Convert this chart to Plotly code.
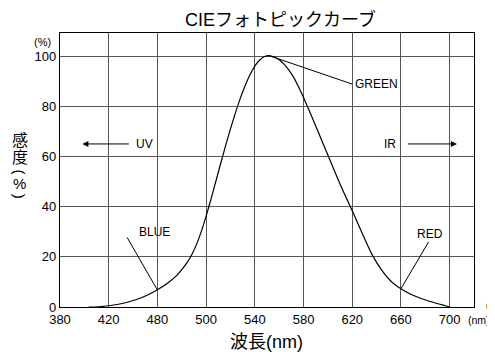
import plotly.graph_objects as go

# ---- data ----
tick_pos = [0, 1, 2, 3, 4, 5, 6, 7, 8]
tick_labels = ["380", "420", "480", "500", "540", "580", "620", "660", "700"]
y_ticks = [0, 20, 40, 60, 80, 100]

# curve position in axis-index units (tick i = i-th label), sensitivity in %
curve_pos = [0.59, 0.8, 1.0, 1.2, 1.4, 1.6, 1.8, 2.0, 2.2, 2.4, 2.5, 2.6, 2.7, 2.8, 2.9,
             3.0, 3.1, 3.2, 3.3, 3.4, 3.5, 3.6, 3.7, 3.8, 3.9, 4.0, 4.1, 4.2, 4.29,
             4.4, 4.5, 4.6, 4.7, 4.8, 4.9, 5.0, 5.1, 5.2, 5.4, 5.6, 5.8, 6.0, 6.2,
             6.4, 6.6, 6.8, 7.0, 7.2, 7.4, 7.6, 7.8, 7.95, 8.0]
curve_val = [0, 0.1, 0.5, 1.1, 2.0, 3.2, 4.8, 6.9, 9.4, 12.6, 14.9, 17.5, 20.7, 24.9, 30.1,
             36.3, 43.1, 50.2, 57.4, 64.4, 71.1, 77.4, 83.2, 88.3, 92.7, 96.2, 98.6, 100.0, 100.4,
             99.8, 98.7, 97.0, 94.6, 91.6, 87.8, 83.6, 79.2, 74.6, 65.3, 56.0, 46.9, 38.4, 29.6,
             21.2, 14.8, 10.2, 7.3, 5.1, 3.5, 2.2, 1.1, 0.3, 0]

labels = ["GREEN", "BLUE", "RED"]
label_pos = [6.006, 1.935, 7.592]
label_val = [89.0, 29.8, 29.3]
label_anchor = ["left", "center", "center"]
leader_from = [(4.285, 100.4), (1.378, 27.8), (7.569, 26.0)]
leader_to = [(6.0, 89.0), (1.993, 7.0), (7.003, 7.4)]

FONT = "Liberation Sans, Arial, Noto Sans CJK JP, sans-serif"

# The page body has an 8px margin, so the figure is drawn 8px smaller and
# all reference pixel positions are shifted by that amount.
OFF = 8
W, H = 495 - OFF, 352 - OFF
PL, PR, PT, PB = 59.6 - OFF, 473.7 - OFF, 33.3 - OFF, 306.7 - OFF
PW, PH = PR - PL, PB - PT


def px(xr):
    return ((xr - OFF) - PL) / PW


def py(yr):
    return (PB - (yr - OFF)) / PH


fig = go.Figure()
fig.add_trace(go.Scatter(
    x=curve_pos, y=curve_val, mode="lines",
    line=dict(color="black", width=1.2, shape="spline", smoothing=0.8),
    hoverinfo="skip", showlegend=False))

for (x0, y0), (x1, y1) in zip(leader_from, leader_to):
    fig.add_shape(type="line", x0=x0, y0=y0, x1=x1, y1=y1, xref="x", yref="y",
                  line=dict(color="black", width=1))

annotations = []
for t, x, y, a in zip(labels, label_pos, label_val, label_anchor):
    annotations.append(dict(x=x, y=y, xref="x", yref="y", text=t, showarrow=False,
                            xanchor=a, yanchor="middle",
                            font=dict(size=12, color="black", family=FONT)))

# UV / IR arrows
annotations.append(dict(x=0.46, y=65.1, ax=1.445, ay=65.1, xref="x", yref="y",
                        axref="x", ayref="y", text="", showarrow=True,
                        arrowhead=2, arrowsize=1.2, arrowwidth=1, arrowcolor="black"))
annotations.append(dict(x=8.15, y=65.1, ax=7.11, ay=65.1, xref="x", yref="y",
                        axref="x", ayref="y", text="", showarrow=True,
                        arrowhead=2, arrowsize=1.2, arrowwidth=1, arrowcolor="black"))
annotations.append(dict(x=1.725, y=65.1, xref="x", yref="y", text="UV", showarrow=False,
                        font=dict(size=12, color="black", family=FONT)))
annotations.append(dict(x=6.772, y=65.1, xref="x", yref="y", text="IR", showarrow=False,
                        font=dict(size=12, color="black", family=FONT)))


def add_text(text, xr, yr, size, angle=0):
    annotations.append(dict(x=px(xr), y=py(yr), xref="paper", yref="paper",
                            text=text, showarrow=False, textangle=angle,
                            xanchor="center", yanchor="middle",
                            font=dict(size=size, color="black", family=FONT)))


add_text("CIEフォトピックカーブ", 280.5, 20, 18)
add_text("(%)", 42.5, 42, 11)
add_text("感", 19.5, 140.5, 16)
add_text("度", 19.5, 157.5, 16)
add_text("(", 19.5, 172.5, 15, 90)
add_text("%", 19.5, 183.5, 15)
add_text(")", 19.5, 196.5, 15, 90)
add_text("(nm)", 478.5, 320, 10.5)
add_text("0", 489.5, 306, 13)
add_text("波長(nm)", 266, 342, 18)

fig.update_layout(
    width=W, height=H,
    margin=dict(l=PL, r=W - PR, t=PT, b=H - PB, autoexpand=False),
    paper_bgcolor="white", plot_bgcolor="white",
    font=dict(family=FONT, color="black", size=13),
    showlegend=False,
    annotations=annotations,
    xaxis=dict(range=[0, 8.5], tickmode="array", tickvals=tick_pos, ticktext=tick_labels,
               showgrid=True, gridcolor="#555", gridwidth=1.2, automargin=False,
               showline=True, mirror=True, linecolor="black", linewidth=1.2,
               ticks="", zeroline=False, tickfont=dict(size=13)),
    yaxis=dict(range=[0, 109.4], tickmode="array", tickvals=y_ticks,
               showgrid=True, gridcolor="#555", gridwidth=1.2, automargin=False,
               showline=True, mirror=True, linecolor="black", linewidth=1.2,
               ticks="", zeroline=False, tickfont=dict(size=13)),
)

fig.write_html("out.html")
